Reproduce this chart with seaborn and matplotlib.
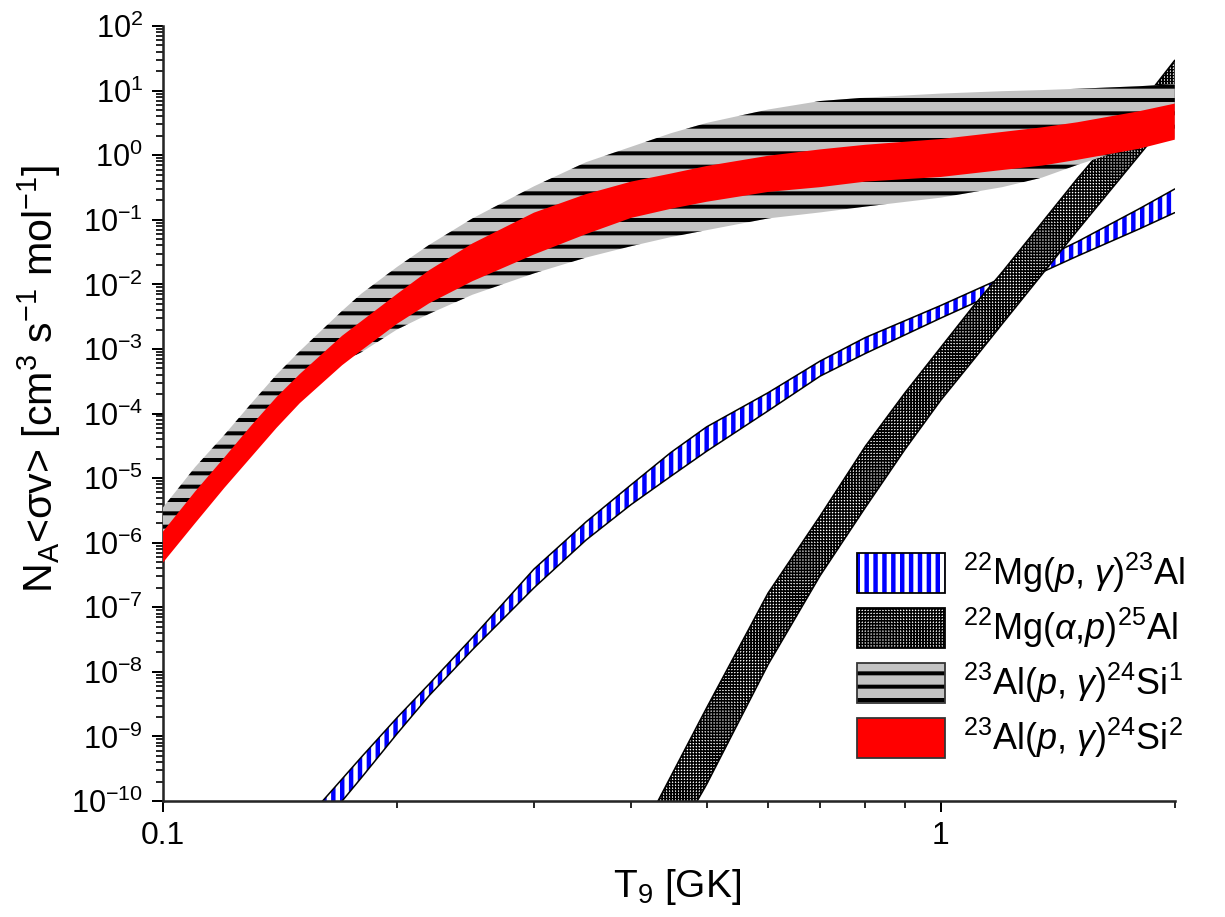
import numpy as np
import matplotlib
matplotlib.use('Agg')
import matplotlib.pyplot as plt
import seaborn as sns
from matplotlib.patches import Patch
from matplotlib.legend_handler import HandlerTuple
from matplotlib.ticker import FixedLocator, FixedFormatter, NullFormatter, LogLocator

# ---------------- data ----------------
T_al = [0.1, 0.11, 0.12, 0.13, 0.14, 0.15, 0.17, 0.18, 0.2, 0.22, 0.25, 0.3, 0.35, 0.4,
        0.45, 0.5, 0.6, 0.7, 0.8, 1.0, 1.2, 1.35, 1.5, 1.8, 2.0]
# 23Al(p,g)24Si (1) -- grey band with black stripes
al1_hi = [3.5e-6, 1.48e-5, 4.7e-5, 1.45e-4, 4.0e-4, 9.3e-4, 3.9e-3, 7.2e-3, 1.86e-2,
          4.1e-2, 0.105, 0.33, 0.78, 1.35, 2.19, 3.16, 5.1, 6.9, 7.8, 9.0, 9.8, 10.2,
          10.7, 11.7, 12.6]
al1_lo = [1.0e-6, 3.5e-6, 1.12e-5, 3.2e-5, 7.9e-5, 1.8e-4, 6.3e-4, 8.9e-4, 2.0e-3,
          3.5e-3, 6.9e-3, 1.48e-2, 2.6e-2, 3.9e-2, 5.4e-2, 6.9e-2, 0.105, 0.13, 0.16,
          0.22, 0.32, 0.45, 0.71, 1.45, 1.86]
# 23Al(p,g)24Si (2) -- red band
al2_hi = [1.48e-6, 6.2e-6, 2.1e-5, 6.6e-5, 1.8e-4, 4.1e-4, 1.6e-3, 2.7e-3, 7.1e-3,
          1.66e-2, 4.3e-2, 0.129, 0.25, 0.39, 0.52, 0.68, 0.98, 1.23, 1.45, 1.78, 2.29,
          2.7, 3.24, 4.8, 6.3]
al2_lo = [4.9e-7, 2.0e-6, 7.1e-6, 2.15e-5, 6.0e-5, 1.45e-4, 5.6e-4, 9.5e-4, 2.45e-3,
          5.1e-3, 1.12e-2, 2.9e-2, 6.0e-2, 0.107, 0.148, 0.19, 0.27, 0.32, 0.39, 0.46,
          0.59, 0.69, 0.85, 1.26, 1.74]

T_mgpg = [0.15, 0.17, 0.18, 0.2, 0.22, 0.25, 0.3, 0.35, 0.4, 0.45, 0.5, 0.6, 0.7, 0.8,
          1.0, 1.2, 1.5, 1.8, 2.0]
# 22Mg(p,g)23Al -- blue striped band
mgpg_hi = [4.0e-11, 2.2e-10, 4.8e-10, 1.95e-9, 6.5e-9, 3.4e-8, 3.9e-7, 2.1e-6, 7.9e-6,
           2.5e-5, 6.2e-5, 2.1e-4, 6.5e-4, 1.5e-3, 4.7e-3, 1.26e-2, 4.6e-2, 0.148, 0.30]
mgpg_lo = [1.6e-11, 1.0e-10, 2.3e-10, 1.1e-9, 4.3e-9, 2.2e-8, 2.0e-7, 1.1e-6, 3.9e-6,
           1.07e-5, 2.6e-5, 1.1e-4, 3.8e-4, 8.5e-4, 3.0e-3, 8.1e-3, 2.75e-2, 7.2e-2, 0.129]

T_mgap = [0.4, 0.5, 0.6, 0.7, 0.8, 0.9, 1.0, 1.1, 1.2, 1.5, 1.8, 2.0]
# 22Mg(a,p)25Al -- cross-hatched band
mgap_hi = [1.6e-11, 2.75e-9, 1.66e-7, 2.6e-6, 3.1e-5, 2.1e-4, 1.05e-3, 4.5e-3, 1.55e-2,
           0.44, 5.8, 29.5]
mgap_lo = [1.6e-12, 1.8e-10, 1.3e-8, 3.1e-7, 3.5e-6, 2.8e-5, 1.6e-4, 6.6e-4, 2.45e-3,
           6.9e-2, 1.0, 4.7]

labels = [r'$^{22}$Mg($\mathit{p}$, $\mathit{\gamma}$)$^{23}$Al',
          r'$^{22}$Mg($\mathit{\alpha}$,$\mathit{p}$)$^{25}$Al',
          r'$^{23}$Al($\mathit{p}$, $\mathit{\gamma}$)$^{24}$Si$^{1}$',
          r'$^{23}$Al($\mathit{p}$, $\mathit{\gamma}$)$^{24}$Si$^{2}$']

x_major = [0.1, 1.0]
x_tick_labels = ['0.1', '1']
x_minor = [0.2, 0.3, 0.4, 0.5, 0.6, 0.7, 0.8, 0.9, 2.0]

# ---------------- style ----------------
DPI = 160
sns.set_theme(style='ticks')
plt.rcParams.update({
    'font.family': ['Liberation Sans', 'DejaVu Sans'],
    'mathtext.fontset': 'custom',
    'mathtext.rm': 'Liberation Sans',
    'mathtext.it': 'Liberation Sans:italic',
    'mathtext.bf': 'Liberation Sans:bold',
    'mathtext.default': 'regular',
    'axes.linewidth': 1.15,
    'text.color': 'black',
    'axes.labelcolor': 'black',
    'xtick.color': 'black',
    'ytick.color': 'black',
})

BLUE_HLW = 2.0
GREY_HLW = 1.8
CROSS_HLW = 0.7


def set_hlw(artist, lw):
    if hasattr(artist, 'set_hatch_linewidth'):
        artist.set_hatch_linewidth(lw)


fig, ax = plt.subplots(figsize=(1225 / DPI, 917 / DPI), dpi=DPI)
fig.subplots_adjust(left=0.133, right=0.959, bottom=0.1265, top=0.9716)

# blue striped band
c = ax.fill_between(T_mgpg, mgpg_lo, mgpg_hi, facecolor='white', edgecolor='#0000ff',
                    hatch='|||', linewidth=0, zorder=1)
set_hlw(c, BLUE_HLW)
sns.lineplot(x=T_mgpg, y=mgpg_lo, color='black', lw=0.7, ax=ax, zorder=1.2)
sns.lineplot(x=T_mgpg, y=mgpg_hi, color='black', lw=0.7, ax=ax, zorder=1.2)

# cross-hatched band
c = ax.fill_between(T_mgap, mgap_lo, mgap_hi, facecolor='white', edgecolor='black',
                    hatch='+' * 9, linewidth=0, zorder=2)
set_hlw(c, CROSS_HLW)
sns.lineplot(x=T_mgap, y=mgap_lo, color='black', lw=0.7, ax=ax, zorder=2.2)
sns.lineplot(x=T_mgap, y=mgap_hi, color='black', lw=0.7, ax=ax, zorder=2.2)

# grey band with black stripes
c = ax.fill_between(T_al, al1_lo, al1_hi, facecolor='#c3c3c3', edgecolor='black',
                    hatch='--', linewidth=0, zorder=3)
set_hlw(c, GREY_HLW)

# red band
ax.fill_between(T_al, al2_lo, al2_hi, facecolor='#ff0000', edgecolor='none',
                linewidth=0, zorder=4)

ax.set_xscale('log')
ax.set_yscale('log')
ax.set_xlim(0.1, 2.0)
ax.set_ylim(1e-10, 1e2)

ax.xaxis.set_major_locator(FixedLocator(x_major))
ax.xaxis.set_major_formatter(FixedFormatter(x_tick_labels))
ax.xaxis.set_minor_locator(FixedLocator(x_minor))
ax.xaxis.set_minor_formatter(NullFormatter())
ax.yaxis.set_major_locator(LogLocator(base=10, numticks=30))
ax.yaxis.set_minor_locator(LogLocator(base=10, subs=np.arange(2, 10), numticks=30))
ax.yaxis.set_minor_formatter(NullFormatter())

ax.tick_params(which='major', direction='out', length=5, width=0.9, labelsize=13.8, pad=4)
ax.tick_params(axis='x', which='major', labelsize=14.3)
ax.tick_params(which='minor', direction='out', length=3.0, width=0.75)
sns.despine(ax=ax)

ax.set_xlabel(r'T$_9$ [GK]', fontsize=17.5)
ax.set_ylabel(r'N$_A$<σv> [cm$^3$ s$^{-1}$ mol$^{-1}$]', fontsize=18.5)
ax.xaxis.set_label_coords(0.508, -0.085)
ax.yaxis.set_label_coords(-0.099, 0.545)

# legend
hb = (Patch(facecolor='white', edgecolor='#0000ff', hatch='|||', lw=0),
      Patch(facecolor='none', edgecolor='black', lw=0.8))
hc = (Patch(facecolor='white', edgecolor='black', hatch='+' * 9, lw=0),
      Patch(facecolor='none', edgecolor='black', lw=0.8))
hg = (Patch(facecolor='#c3c3c3', edgecolor='black', hatch='--', lw=0),
      Patch(facecolor='none', edgecolor='#333333', lw=0.8))
hr = (Patch(facecolor='#ff0000', lw=0),
      Patch(facecolor='none', edgecolor='#333333', lw=0.8))

leg = fig.legend([hb, hc, hg, hr], labels, loc='upper left',
                 bbox_to_anchor=(857 / 1225, 1 - 551 / 917), frameon=False,
                 fontsize=16.2, handlelength=2.44, handleheight=1.33,
                 handletextpad=0.5, labelspacing=0.30, borderpad=0,
                 borderaxespad=0, handler_map={tuple: HandlerTuple(ndivide=1)})
for h, lw in zip(leg.legend_handles, [BLUE_HLW, CROSS_HLW, GREY_HLW, None]):
    if lw is not None:
        set_hlw(h, lw)

fig.savefig('out.png', dpi=DPI)
